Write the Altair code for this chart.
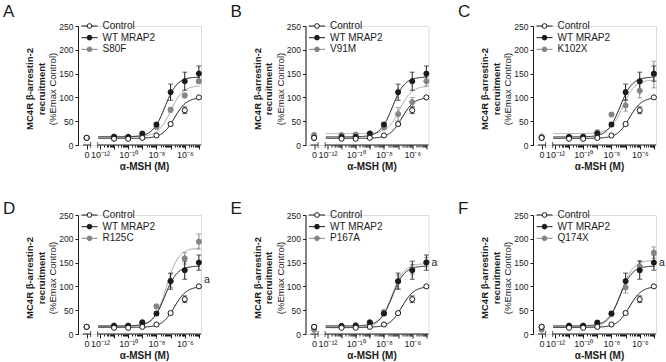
import altair as alt
import numpy as np
import pandas as pd

# ---- dose levels: log10 [alpha-MSH] (M); the vehicle dose sits left of the axis break
log_doses = [-11, -10, -9, -8, -7, -6, -5]
ZERO_POS = -12.94

# ---- shared reference series (mean, SEM) and their fitted curves (bottom, top, logEC50)
control_zero = 15
control_mean = [13, 13, 15, 20, 44, 73, 100]
control_sem = [1, 1, 1, 1.5, 3, 7, 2]
control_fit = [14, 100, -6.73]

wt_zero = 15
wt_mean = [17, 17, 24, 43, 111, 134, 150]
wt_sem = [2, 2, 3, 4, 17, 19, 16]
wt_fit = [17, 143, -7.4]

# ---- MRAP2 variants, one per panel
panel_letters = ["A", "B", "C", "D", "E", "F"]
variant_names = ["S80F", "V91M", "K102X", "R125C", "P167A", "Q174X"]
variant_zero = [15, 21, 18, 15, 9, 9]
variant_mean = [
    [18, 17, 22, 38, 74, 104, 134],
    [21, 22, 24, 37, 65, 90, 134],
    [16, 18, 27, 64, 83, 114, 148],
    [18, 18, 25, 58, 112, 159, 194],
    [16, 19, 25, 46, 110, 136, 151],
    [18, 18, 23, 42, 98, 142, 171],
]
variant_sem = [
    [2, 2, 2, 3, 5, 5, 4],
    [2, 2, 2, 4, 14, 10, 10],
    [2, 2, 3, 4, 12, 15, 28],
    [2, 2, 3, 4, 14, 12, 16],
    [2, 2, 3, 4, 14, 10, 10],
    [2, 2, 3, 4, 12, 12, 12],
]
variant_fit = [
    [18, 125, -7.0],
    [24, 124, -6.9],
    [24, 137, -7.2],
    [16, 181, -7.3],
    [13, 148, -7.45],
    [14, 155, -7.35],
]
# significance marks drawn right of the curves (value at which they sit)
sig_label = [None, None, None, "a", "a", "a"]
sig_value = [None, None, None, 113, 150, 150]

W, H = 123, 119
X_DOMAIN = [-13.55, -4.85]
X_SCALE = alt.Scale(domain=X_DOMAIN, nice=False, zero=False)
Y_SCALE = alt.Scale(domain=[0, 250], nice=False, zero=True)

INK = "#1b1b1b"
GREY = "#858585"
GREY_LINE = "#a8a8a8"

# axis ticks: decades plus log minor ticks on the dose segment, one tick for vehicle
tick_vals = [ZERO_POS]
for d in range(-12, -4):
    tick_vals.append(d)
    for k in range(2, 10):
        v = d + np.log10(k)
        if v < -4.9:
            tick_vals.append(round(float(v), 4))

label_expr = (
    "datum.value < -12.5 ? '0' : "
    "abs(datum.value + 12) < 0.001 ? '10⁻¹²' : "
    "abs(datum.value + 10) < 0.001 ? '10⁻¹⁰' : "
    "abs(datum.value + 8) < 0.001 ? '10⁻⁸' : "
    "abs(datum.value + 6) < 0.001 ? '10⁻⁶' : ''"
)

x_axis = alt.Axis(
    values=tick_vals,
    labelExpr=label_expr,
    domain=False,
    grid=False,
    tickColor=INK,
    tickWidth=1,
    tickSize={"condition": {"test": "datum.value < -12.5 || abs(datum.value - round(datum.value)) < 0.001", "value": 4}, "value": 2},
    labelFontSize=9,
    labelColor=INK,
    labelPadding=1,
    labelOverlap=False,
    labelFlush=False,
    title="α-MSH (M)",
    titleFontSize=10,
    titleFontWeight="bold",
    titleColor=INK,
    titlePadding=2,
    titleX=66,
)
y_axis = alt.Axis(
    values=[0, 50, 100, 150, 200, 250],
    grid=False,
    domainColor=INK,
    tickColor=INK,
    tickSize=3,
    labelFontSize=8.5,
    labelColor=INK,
    labelPadding=2,
    labelOverlap=False,
    labelFlush=False,
    title=None,
)

X = alt.X("x:Q", scale=X_SCALE, axis=x_axis)


def Y(field):
    return alt.Y(field, scale=Y_SCALE, axis=y_axis)


def hill(x, p):
    bottom, top, logec50 = p
    return bottom + (top - bottom) / (1.0 + 10.0 ** (logec50 - x))


def series_frame(zero, mean, sem):
    ys = [zero] + list(mean)
    es = [1] + list(sem)
    return pd.DataFrame({
        "x": [ZERO_POS] + list(log_doses),
        "y": ys,
        "lo": [m - s for m, s in zip(ys, es)],
        "hi": [m + s for m, s in zip(ys, es)],
    })


def curve_frame(p):
    xs = np.linspace(-12.12, -4.93, 160)
    return pd.DataFrame({"x": xs, "y": hill(xs, p)})


def panel(i):
    row = i // 3
    name = variant_names[i]
    styles = [
        # (data, fit, fill, stroke, line colour)
        (series_frame(variant_zero[i], variant_mean[i], variant_sem[i]), variant_fit[i], GREY, GREY, GREY_LINE),
        (series_frame(wt_zero, wt_mean, wt_sem), wt_fit, INK, INK, INK),
        (series_frame(control_zero, control_mean, control_sem), control_fit, "white", INK, INK),
    ]
    layers = []

    # broken x axis line
    seg = pd.DataFrame({"x": [-13.2, -12.16], "x2": [-12.66, X_DOMAIN[1]], "y": [0, 0]})
    layers.append(
        alt.Chart(seg).mark_rule(color=INK, strokeWidth=1).encode(x=X, x2="x2:Q", y=Y("y:Q"))
    )
    caps = pd.DataFrame({"x": [-12.66, -12.16], "y": [0, 0]})
    layers.append(
        alt.Chart(caps).mark_tick(orient="vertical", color=INK, thickness=1, size=6).encode(
            x=X, y=Y("y:Q")
        )
    )

    for data, fit, fill, stroke, lc in styles:
        layers.append(
            alt.Chart(curve_frame(fit)).mark_line(color=lc, strokeWidth=1).encode(x=X, y=Y("y:Q"))
        )
    for data, fit, fill, stroke, lc in styles:
        base = alt.Chart(data)
        layers.append(
            base.mark_rule(color=stroke, strokeWidth=1).encode(x=X, y=Y("lo:Q"), y2="hi:Q")
        )
        for end in ("lo", "hi"):
            layers.append(
                base.mark_tick(orient="horizontal", color=stroke, thickness=1, size=5).encode(
                    x=X, y=Y(f"{end}:Q")
                )
            )
    for data, fit, fill, stroke, lc in styles:
        layers.append(
            alt.Chart(data).mark_point(
                filled=True, fill=fill, stroke=stroke, strokeWidth=1, size=26, opacity=1
            ).encode(x=X, y=Y("y:Q"))
        )

    # in-plot legend
    leg_names = ["Control", "WT MRAP2", name]
    leg_vals = [250, 225.5, 201]
    leg_fill = ["white", INK, GREY]
    leg_stroke = [INK, INK, GREY]
    for lab, v, f, s in zip(leg_names, leg_vals, leg_fill, leg_stroke):
        ld = pd.DataFrame({"y": [v], "t": [lab]})
        lb = alt.Chart(ld)
        layers.append(
            lb.mark_rule(color=s, strokeWidth=1).encode(
                x=alt.value(3.5), x2=alt.value(19.5), y=Y("y:Q")
            )
        )
        layers.append(
            lb.mark_point(filled=True, fill=f, stroke=s, strokeWidth=1, size=22, opacity=1).encode(
                x=alt.value(11.5), y=Y("y:Q")
            )
        )
        layers.append(
            lb.mark_text(align="left", baseline="middle", fontSize=10, color=INK).encode(
                x=alt.value(24.5), y=Y("y:Q"), text="t:N"
            )
        )

    if sig_label[i]:
        sd = pd.DataFrame({"x": [-4.85], "y": [sig_value[i]], "t": [sig_label[i]]})
        layers.append(
            alt.Chart(sd).mark_text(align="left", baseline="middle", fontSize=10.5, color=INK, dx=3).encode(
                x=X, y=Y("y:Q"), text="t:N"
            )
        )

    # y-axis title (two bold lines and one regular line)
    ann = pd.DataFrame({"t": [0]})
    title_lines = [("MC4R β-arrestin-2", -48, "bold"), ("recruitment", -36.5, "bold"), ("(%Emax Control)", -25, "normal")]
    for txt, xo, wt in title_lines:
        layers.append(
            alt.Chart(ann).mark_text(
                text=txt, angle=270, fontSize=9.5, fontWeight=wt, color=INK,
                align="center", baseline="middle",
            ).encode(x=alt.value(xo), y=alt.value(63))
        )
    # panel letter
    layers.append(
        alt.Chart(ann).mark_text(
            text=panel_letters[i], fontSize=17, color=INK, align="left", baseline="alphabetic"
        ).encode(x=alt.value(-75), y=alt.value(-9 if row == 0 else -1))
    )

    return alt.layer(*layers).properties(width=W, height=H)


chart = alt.concat(
    *[panel(i) for i in range(6)],
    columns=3,
    spacing={"row": 70, "column": 104.5},
    bounds="flush",
).properties(
    padding={"left": 2, "top": 2, "right": 0, "bottom": 0}
).configure_view(stroke=None).configure(font="Liberation Sans")

chart.save("out.html", embed_options={"renderer": "svg", "actions": False})
